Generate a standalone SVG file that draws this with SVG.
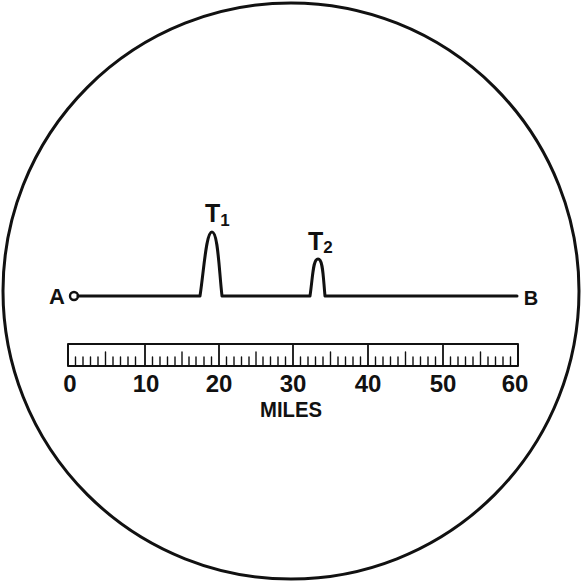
<svg xmlns="http://www.w3.org/2000/svg" width="582" height="582" viewBox="0 0 582 582">
<style>
.t{font-family:"Liberation Sans",Arial,sans-serif;font-weight:bold;fill:#111}
.ln{fill:none;stroke:#111;stroke-linecap:round;stroke-linejoin:round}
</style>
<rect width="582" height="582" fill="#fff"/>
<g id="screen"><circle cx="291" cy="291" r="288" class="ln" stroke-width="3"/></g>
<g id="trace">
<circle cx="74" cy="296" r="4" class="ln" stroke-width="2.4"/>
<path class="ln" stroke-width="3" d="M78 296 H200 C204 270 206 232 212 232 C218 232 219 270 222 296 H310 C313 275 313 259 318 259 C323 259 323 275 325 296 H517"/>
<text class="t" x="57" y="304" font-size="22" text-anchor="middle">A</text>
<text class="t" x="531" y="305" font-size="20" text-anchor="middle">B</text>
<text class="t" x="205" y="222" font-size="25">T<tspan font-size="17" dy="4">1</tspan></text>
<text class="t" x="308" y="250" font-size="25">T<tspan font-size="17" dy="3">2</tspan></text>
</g>
<g id="scale">
<rect x="68" y="344" width="450" height="22" class="ln" stroke-width="2"/>
<path class="ln" stroke-width="1.8" d="M145 344V366M219 344V366M293 344V366M368 344V366M443 344V366"/>
<path class="ln" stroke-width="1.4" d="
M75.5 357V366M83 357V366M90.5 357V366M98 357V366M105.5 352V366M113 357V366M120.5 357V366M128 357V366M135.5 357V366
M152.5 357V366M160 357V366M167.5 357V366M175 357V366M182 352V366M189 357V366M196 357V366M204 357V366M211.5 357V366
M226.5 357V366M234 357V366M241.5 357V366M249 357V366M256 352V366M263 357V366M270.5 357V366M278 357V366M285.5 357V366
M300.5 357V366M308 357V366M315.5 357V366M323 357V366M330.5 352V366M338 357V366M345.5 357V366M353 357V366M360.5 357V366
M375.5 357V366M383 357V366M390.5 357V366M398 357V366M405.5 352V366M413 357V366M420.5 357V366M428 357V366M435.5 357V366
M450.5 357V366M458 357V366M465.5 357V366M473 357V366M480.5 352V366M488 357V366M495.5 357V366M503 357V366M510.5 357V366"/>
<g class="t" font-size="24" text-anchor="middle">
<text x="70" y="392">0</text>
<text x="146" y="392">10</text>
<text x="219" y="392">20</text>
<text x="293" y="392">30</text>
<text x="368" y="392">40</text>
<text x="443" y="392">50</text>
<text x="515" y="392">60</text>
</g>
<text class="t" x="291" y="417" font-size="22" text-anchor="middle" textLength="62" lengthAdjust="spacingAndGlyphs">MILES</text>
</g>
</svg>
